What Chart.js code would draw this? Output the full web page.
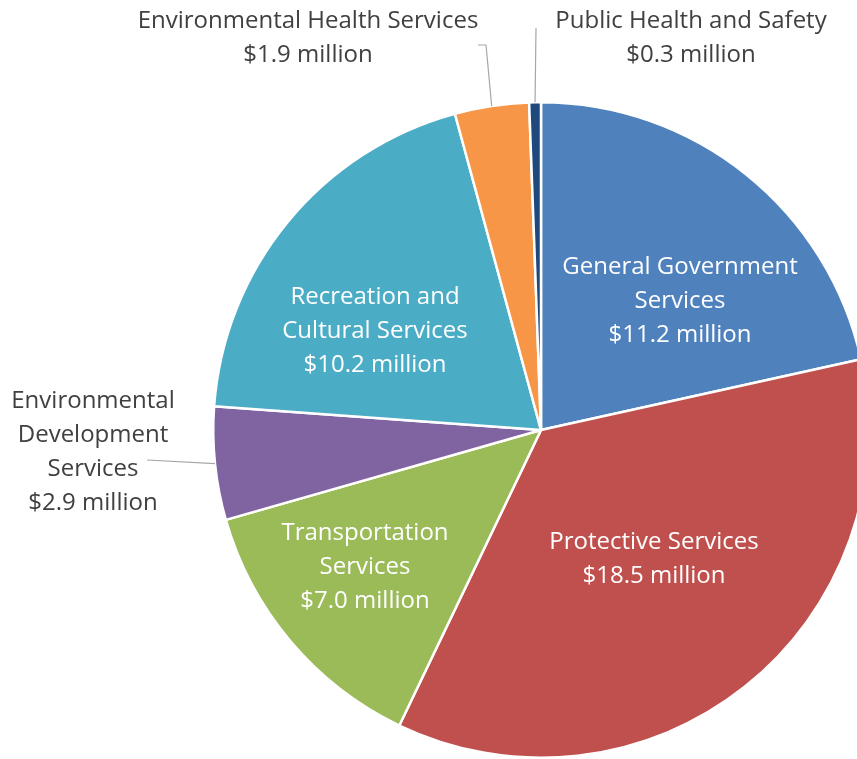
<!DOCTYPE html>
<html>
<head>
<meta charset="utf-8">
<script src="https://cdn.jsdelivr.net/npm/chart.js@4/dist/chart.umd.min.js"></script>
<style>
  html, body { margin: 0; padding: 0; background: #fff; overflow: hidden; }
  #wrap { width: 880px; height: 759px; }
</style>
</head>
<body>
<div id="wrap"><canvas id="pieChart" width="880" height="759"></canvas></div>
<script>
// Presupuesto por servicio (millones de dólares)
const categorias = [
  "General Government Services",
  "Protective Services",
  "Transportation Services",
  "Environmental Development Services",
  "Recreation and Cultural Services",
  "Environmental Health Services",
  "Public Health and Safety",
];
const montos = [11.2, 18.5, 7.0, 2.9, 10.2, 1.9, 0.3];
const colores = ["#4F81BD", "#C0504D", "#9BBB59", "#8064A2", "#4BACC6", "#F79646", "#1F497D"];

// Texto de cada etiqueta (el monto se agrega desde montos)
const lineasEtiqueta = [
  ["General Government", "Services"],
  ["Protective Services"],
  ["Transportation", "Services"],
  ["Environmental", "Development", "Services"],
  ["Recreation and", "Cultural Services"],
  ["Environmental Health Services"],
  ["Public Health and Safety"],
];

// Posición de las etiquetas respecto al centro del pastel
const posEtiqueta = [
  { dx: 139, dy: -164, dentro: true },
  { dx: 113, dy: 111, dentro: true },
  { dx: -176, dy: 102, dentro: true },
  { dx: -448, dy: -30, dentro: false, guia: [[-394, 30]] },
  { dx: -166, dy: -134, dentro: true },
  { dx: -233, dy: -410, dentro: false, guia: [[-63, -385], [-55, -385]] },
  { dx: 150, dy: -410, dentro: false, guia: [[-5, -402]] },
];

const FUENTE = "24px 'Open Sans', 'Noto Sans', sans-serif";
const INTERLINEA = 34;

const etiquetasPlugin = {
  id: "etiquetas",
  afterDatasetsDraw(chart) {
    const ctx = chart.ctx;
    const arcos = chart.getDatasetMeta(0).data;
    ctx.save();
    ctx.font = FUENTE;
    ctx.textAlign = "center";
    ctx.textBaseline = "middle";
    arcos.forEach((arco, i) => {
      const { x, y, startAngle, endAngle, outerRadius } = arco.getProps(
        ["x", "y", "startAngle", "endAngle", "outerRadius"], true);
      const p = posEtiqueta[i];
      // Línea guía desde la etiqueta hasta el borde del sector
      if (p.guia) {
        const medio = (startAngle + endAngle) / 2;
        ctx.beginPath();
        ctx.strokeStyle = "#A6A6A6";
        ctx.lineWidth = 1.2;
        p.guia.forEach(([gx, gy], k) => {
          if (k === 0) ctx.moveTo(x + gx, y + gy);
          else ctx.lineTo(x + gx, y + gy);
        });
        ctx.lineTo(x + Math.cos(medio) * outerRadius, y + Math.sin(medio) * outerRadius);
        ctx.stroke();
      }
      const lineas = lineasEtiqueta[i].concat(["$" + montos[i].toFixed(1) + " million"]);
      ctx.fillStyle = p.dentro ? "#FFFFFF" : "#404040";
      lineas.forEach((t, k) => {
        ctx.fillText(t, x + p.dx, y + p.dy + 1 + k * INTERLINEA);
      });
    });
    ctx.restore();
  },
};

const ctx = document.getElementById("pieChart").getContext("2d");
new Chart(ctx, {
  type: "pie",
  data: {
    labels: categorias,
    datasets: [
      {
        data: montos,
        backgroundColor: colores,
        borderColor: "#FFFFFF",
        borderWidth: 2.5,
      },
    ],
  },
  options: {
    responsive: false,
    animation: false,
    layout: { padding: { left: 212, top: 101, right: 10, bottom: 0 } },
    plugins: {
      legend: { display: false },
      tooltip: { enabled: false },
    },
  },
  plugins: [etiquetasPlugin],
});
</script>
</body>
</html>
